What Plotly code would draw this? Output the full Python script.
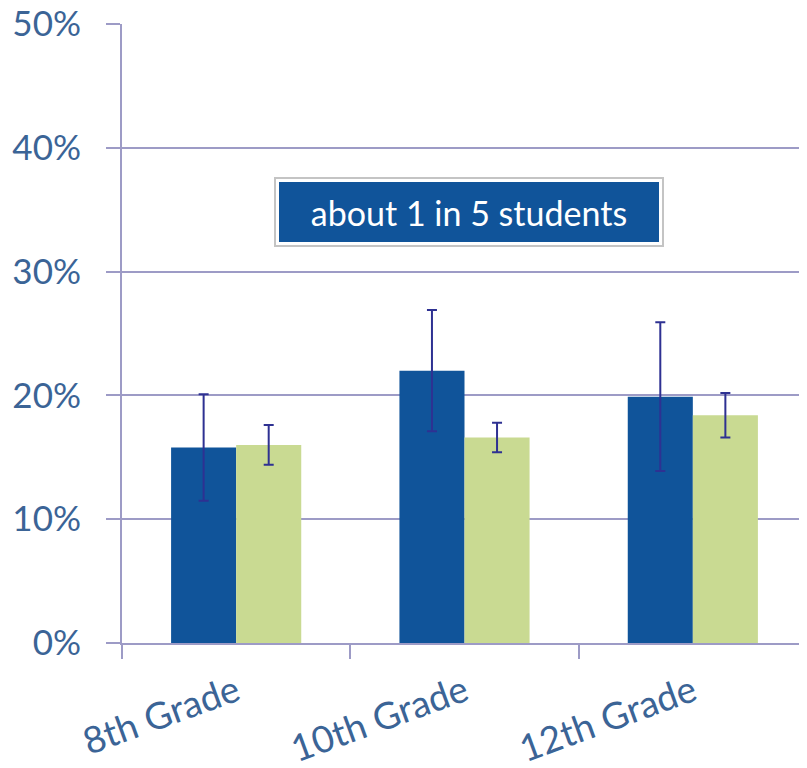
import plotly.graph_objects as go

categories = ["8th Grade", "10th Grade", "12th Grade"]
series_a = [15.8, 22.0, 19.9]
series_a_err = [4.3, 4.9, 6.0]
series_b = [16.0, 16.6, 18.4]
series_b_err = [1.6, 1.2, 1.8]
y_ticks = [0, 10, 20, 30, 40, 50]
y_tick_labels = ["0%", "10%", "20%", "30%", "40%", "50%"]
callout_text = "about 1 in 5 students"

BLUE = "#10549A"
GREEN = "#C9DA92"
ERR = "#2E3192"
GRID = "#9D9BC6"
TXT = "#3B6496"
FONT = "Lato"

fig = go.Figure()
fig.add_trace(go.Bar(
    x=categories, y=series_a, marker=dict(color=BLUE, line=dict(width=0)),
    error_y=dict(type="data", array=series_a_err, color=ERR, thickness=2, width=5),
    showlegend=False,
))
fig.add_trace(go.Bar(
    x=categories, y=series_b, marker=dict(color=GREEN, line=dict(width=0)),
    error_y=dict(type="data", array=series_b_err, color=ERR, thickness=2, width=5),
    showlegend=False,
))

# callout: outer shadow frame then blue box
fig.add_annotation(
    x=1.02, y=34.8, xref="x", yref="y", text=callout_text, showarrow=False,
    font=dict(family=FONT, size=34, color="rgba(0,0,0,0)"),
    width=380, height=60, bgcolor="white", bordercolor="#C4C4C4", borderwidth=2,
    borderpad=3,
)
fig.add_annotation(
    x=1.02, y=34.8, xref="x", yref="y", text=callout_text, showarrow=False,
    font=dict(family=FONT, size=34, color="white"),
    width=380, height=60, bgcolor=BLUE, bordercolor=BLUE, borderwidth=0,
    borderpad=0,
)

fig.update_layout(
    width=799, height=760,
    margin=dict(l=114, r=0, t=16, b=125),
    paper_bgcolor="white", plot_bgcolor="white",
    barmode="group", bargap=0.43, bargroupgap=0,
    font=dict(family=FONT, color=TXT),
)
fig.update_yaxes(
    range=[0, 50], tickvals=y_ticks, ticktext=y_tick_labels,
    showgrid=True, gridcolor=GRID, gridwidth=2,
    showline=True, linecolor=GRID, linewidth=2,
    ticks="outside", ticklen=14, tickcolor=GRID, tickwidth=2,
    tickfont=dict(family=FONT, size=35, color=TXT),
    ticklabelstandoff=18, zeroline=False, automargin=False,
    ticklabeloverflow="allow",
)
fig.update_xaxes(
    showline=True, linecolor=GRID, linewidth=2,
    ticks="outside", ticklen=14, tickcolor=GRID, tickwidth=2,
    tickson="boundaries", tickangle=-20,
    tickfont=dict(family=FONT, size=37, color=TXT),
    ticklabelstandoff=11, automargin=False,
    ticklabeloverflow="allow",
)

fig.write_html("out.html")
